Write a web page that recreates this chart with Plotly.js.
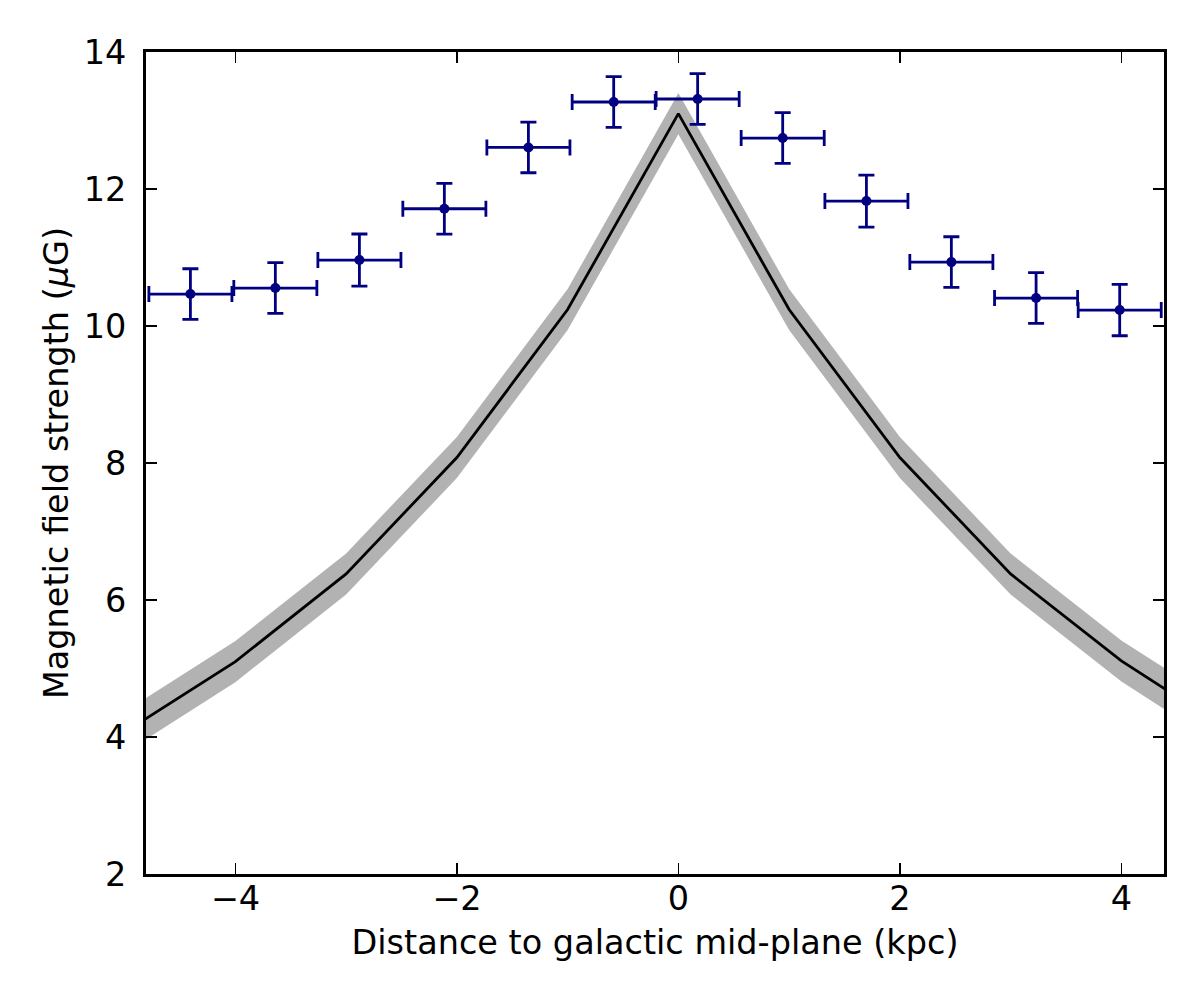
<!DOCTYPE html>
<html>
<head>
<meta charset="utf-8">
<script src="https://cdn.plot.ly/plotly-3.0.1.min.js"></script>
<style>
  html, body { margin: 0; padding: 0; background: #fff; }
  #chart { width: 1200px; height: 1000px; }
</style>
</head>
<body>
<div id="chart"></div>
<script>
// Binned measurements of field strength vs. height above the mid-plane
const binCentres = [-4.406, -3.639, -2.880, -2.113, -1.354, -0.584, 0.174, 0.942, 1.698, 2.465, 3.230, 3.985];
const binHalfWidth = [0.375, 0.375, 0.375, 0.375, 0.375, 0.375, 0.375, 0.375, 0.375, 0.375, 0.375, 0.375];
const fieldStrength = [10.466, 10.554, 10.963, 11.712, 12.607, 13.270, 13.314, 12.744, 11.824, 10.933, 10.408, 10.233];
const fieldError = [0.37, 0.37, 0.38, 0.37, 0.37, 0.37, 0.37, 0.37, 0.38, 0.37, 0.37, 0.375];

// Model profile with its uncertainty band
const modelZ = [-5, -4, -3, -2, -1, 0, 1, 2, 3, 4, 5];
const modelB = [4.07, 5.10, 6.38, 8.08, 10.24, 13.10, 10.24, 8.08, 6.38, 5.11, 4.07];
const modelErr = [0.3, 0.3, 0.3, 0.3, 0.3, 0.3, 0.3, 0.3, 0.3, 0.3, 0.3];

// Axis ticks
const xTickVals = [-4, -2, 0, 2, 4];
const xTickText = ["\u22124", "\u22122", "0", "2", "4"];
const yTickVals = [2, 4, 6, 8, 10, 12, 14];
const yTickText = ["2", "4", "6", "8", "10", "12", "14"];

const modelLower = modelB.map((v, i) => v - modelErr[i]);
const modelUpper = modelB.map((v, i) => v + modelErr[i]);

const FONT = "DejaVu Sans, sans-serif";
const NAVY = "#000080";

const traces = [
  {
    x: modelZ, y: modelLower, type: "scatter", mode: "lines",
    line: { width: 0, color: "rgba(0,0,0,0)" },
    hoverinfo: "skip", showlegend: false
  },
  {
    x: modelZ, y: modelUpper, type: "scatter", mode: "lines",
    fill: "tonexty", fillcolor: "rgba(0,0,0,0.3)",
    line: { width: 0, color: "rgba(0,0,0,0)" },
    hoverinfo: "skip", showlegend: false
  },
  {
    x: modelZ, y: modelB, type: "scatter", mode: "lines",
    line: { color: "#000000", width: 2.8 },
    showlegend: false
  },
  {
    x: binCentres, y: fieldStrength, type: "scatter", mode: "markers",
    marker: { color: NAVY, size: 10 },
    error_x: { type: "data", array: binHalfWidth, visible: true, color: NAVY, thickness: 2.8, width: 8 },
    error_y: { type: "data", array: fieldError, visible: true, color: NAVY, thickness: 2.8, width: 8 },
    showlegend: false,
    cliponaxis: true
  }
];

const axisCommon = {
  showgrid: false,
  zeroline: false,
  showline: true,
  linecolor: "#000000",
  linewidth: 3,
  mirror: "allticks",
  ticks: "inside",
  ticklen: 11,
  tickwidth: 1.6,
  tickcolor: "#000000",
  tickfont: { family: FONT, size: 33.5, color: "#000000" },
  tickmode: "array"
};

const layout = {
  width: 1200,
  height: 1000,
  paper_bgcolor: "#ffffff",
  plot_bgcolor: "#ffffff",
  margin: { l: 146, r: 36, t: 52, b: 126 },
  showlegend: false,
  font: { family: FONT, size: 33.5, color: "#000000" },
  xaxis: Object.assign({}, axisCommon, {
    range: [-4.807, 4.385],
    tickvals: xTickVals,
    ticktext: xTickText,
    ticklabelstandoff: -7,
    title: { text: "Distance to galactic mid-plane (kpc)", font: { family: FONT, size: 33.5, color: "#000000" }, standoff: 14 }
  }),
  yaxis: Object.assign({}, axisCommon, {
    range: [2, 14],
    tickvals: yTickVals,
    ticktext: yTickText,
    ticklabelstandoff: 10,
    title: { text: "Magnetic field strength (<i>\u03bc</i>G)", font: { family: FONT, size: 33.5, color: "#000000" }, standoff: 5 }
  })
};

Plotly.newPlot("chart", traces, layout, { displayModeBar: false, staticPlot: true });
</script>
</body>
</html>
